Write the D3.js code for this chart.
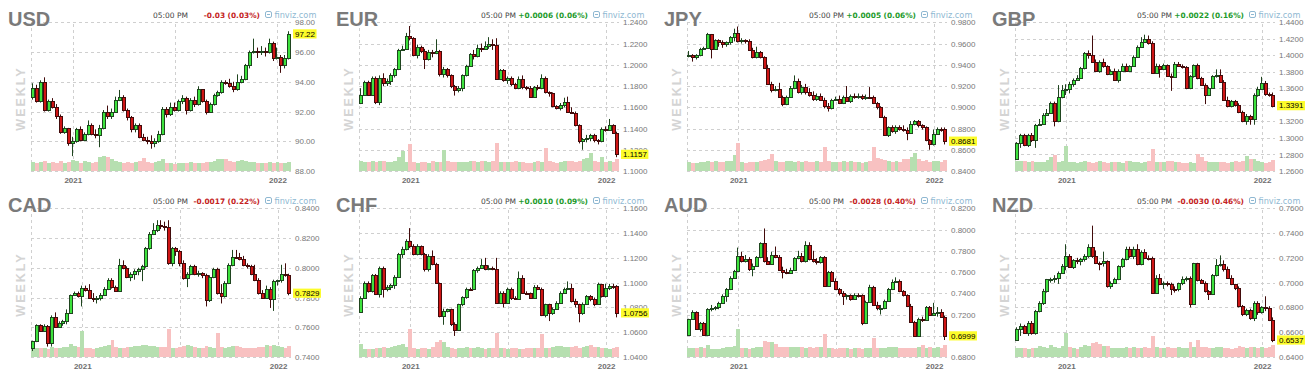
<!DOCTYPE html>
<html><head><meta charset="utf-8">
<script src="https://cdn.jsdelivr.net/npm/d3@7"></script>
<style>body{margin:0;background:#fff}svg{display:block}</style>
</head><body>
<svg id="c" width="1314" height="379"></svg>
<script>
// ---------- data ----------
const panelNames = ["USD","EUR","JPY","GBP","CAD","CHF","AUD","NZD"];
const changeLabels = ["-0.03 (0.03%)","+0.0006 (0.06%)","+0.0005 (0.06%)","+0.0022 (0.16%)","-0.0017 (0.22%)","+0.0010 (0.09%)","-0.0028 (0.40%)","-0.0030 (0.46%)"];
const lastPrices = [97.22,1.1157,0.8681,1.3391,0.7829,1.0756,0.6999,0.6537];
const firstWeeks = ["2020-10-26","2020-10-05","2020-10-05","2020-10-05","2020-10-05","2020-10-05","2020-10-05","2020-10-05"];
const timeLabel = "05:00 PM";
const periodLabel = "WEEKLY";

const usdTicks = [88,90,92,94,96,98];
const eurTicks = [1.10,1.12,1.14,1.16,1.18,1.20,1.22,1.24];
const jpyTicks = [0.84,0.86,0.88,0.90,0.92,0.94,0.96,0.98];
const gbpTicks = [1.26,1.28,1.30,1.32,1.34,1.36,1.38,1.40,1.42,1.44];
const cadTicks = [0.74,0.76,0.78,0.80,0.82,0.84];
const chfTicks = [1.04,1.06,1.08,1.10,1.12,1.14,1.16];
const audTicks = [0.68,0.70,0.72,0.74,0.76,0.78,0.80,0.82];
const nzdTicks = [0.64,0.66,0.68,0.70,0.72,0.74,0.76];

// weekly candles [open, high, low, close]
const usdCandles = [[93.0,93.9,92.8,93.6],[93.6,93.8,92.6,92.7],[92.7,94.1,92.6,94.0],[94.0,94.3,92.0,92.1],[92.1,92.8,92.0,92.7],[92.7,92.9,92.2,92.3],[92.3,92.5,91.5,91.7],[91.7,91.8,90.5,90.6],[90.6,91.0,90.5,90.9],[90.9,90.9,89.7,89.9],[89.9,90.3,89.0,90.0],[90.0,90.9,89.9,90.8],[90.8,91.0,90.0,90.1],[90.1,90.6,90.0,90.5],[90.5,91.4,90.4,91.1],[91.1,91.2,90.4,90.5],[90.5,90.8,90.2,90.4],[90.4,91.1,89.6,90.9],[90.9,92.1,90.8,92.0],[92.0,92.4,91.5,91.7],[91.7,92.2,91.5,92.0],[92.0,93.0,91.9,92.8],[92.8,93.45,92.7,93.0],[93.0,93.1,92.0,92.1],[92.1,92.2,91.4,91.6],[91.6,91.7,90.6,90.8],[90.8,91.2,90.6,91.1],[91.1,91.2,90.2,90.3],[90.3,90.5,90.0,90.1],[90.1,90.3,89.8,90.0],[90.0,90.4,89.5,89.9],[89.9,90.2,89.6,90.0],[90.0,90.7,89.9,90.5],[90.5,92.3,90.4,92.2],[92.2,92.3,91.6,91.8],[91.8,92.6,91.7,92.3],[92.3,92.6,92.0,92.1],[92.1,92.8,92.0,92.7],[92.7,93.1,92.5,92.9],[92.9,93.0,91.8,92.1],[92.1,92.9,92.0,92.8],[92.8,93.0,92.3,92.5],[92.5,93.7,92.4,93.5],[93.5,93.5,92.6,92.7],[92.7,92.8,91.8,92.0],[92.0,92.6,91.9,92.5],[92.5,93.2,92.4,93.1],[93.1,93.4,93.0,93.3],[93.3,94.1,93.2,94.0],[94.0,94.1,93.8,93.9],[93.9,94.2,93.6,93.7],[93.7,94.0,93.3,93.5],[93.5,94.5,93.4,94.0],[94.0,94.4,93.9,94.2],[94.2,95.2,94.1,95.1],[95.1,96.1,94.9,96.0],[96.0,96.9,95.9,96.1],[96.1,96.3,95.6,96.0],[96.0,96.4,95.8,96.1],[96.1,96.3,95.7,96.0],[96.0,96.9,95.9,96.6],[96.6,96.7,95.4,95.6],[95.6,96.3,95.5,95.7],[95.7,95.8,94.6,95.1],[95.1,95.8,94.9,95.6],[95.6,97.4,95.5,97.22]];
const usdVolume = [9,8,9,10,8,9,8,10,8,9,11,10,8,10,9,8,9,14,15,14,12,10,9,8,9,8,9,10,13,9,8,9,10,12,8,8,7,8,8,8,9,8,8,8,9,9,10,12,12,12,10,9,10,11,10,9,9,8,8,8,9,8,9,8,8,9];

const eurCandles = [[1.1640,1.1780,1.1630,1.1720],[1.1720,1.1850,1.1710,1.1840],[1.1840,1.1850,1.1710,1.1720],[1.1720,1.1890,1.1710,1.1880],[1.1880,1.1890,1.1630,1.1650],[1.1650,1.1900,1.1620,1.1880],[1.1880,1.1920,1.1800,1.1830],[1.1830,1.1870,1.1800,1.1850],[1.1850,1.1920,1.1810,1.1900],[1.1900,1.1970,1.1880,1.1960],[1.1960,1.2150,1.1950,1.2140],[1.2140,1.2180,1.2130,1.2150],[1.2150,1.2300,1.2140,1.2270],[1.2270,1.2365,1.2230,1.2250],[1.2250,1.2260,1.2080,1.2090],[1.2090,1.2190,1.2060,1.2170],[1.2170,1.2180,1.2110,1.2130],[1.2130,1.2150,1.1960,1.2050],[1.2050,1.2140,1.2040,1.2120],[1.2120,1.2140,1.2070,1.2110],[1.2110,1.2240,1.2100,1.2130],[1.2130,1.2140,1.1890,1.1910],[1.1910,1.1980,1.1880,1.1960],[1.1960,1.1970,1.1880,1.1900],[1.1900,1.1910,1.1780,1.1800],[1.1800,1.1810,1.1710,1.1760],[1.1760,1.1800,1.1740,1.1780],[1.1780,1.1910,1.1750,1.1900],[1.1900,1.2000,1.1890,1.1990],[1.1990,1.2110,1.1980,1.2100],[1.2100,1.2140,1.2050,1.2080],[1.2080,1.2190,1.2070,1.2160],[1.2160,1.2200,1.2120,1.2150],[1.2150,1.2220,1.2140,1.2180],[1.2180,1.2260,1.2150,1.2200],[1.2200,1.2240,1.2140,1.2190],[1.2190,1.2250,1.1860,1.1870],[1.1870,1.1960,1.1860,1.1950],[1.1950,1.1960,1.1840,1.1860],[1.1860,1.1890,1.1820,1.1880],[1.1880,1.1890,1.1800,1.1820],[1.1820,1.1830,1.1770,1.1780],[1.1780,1.1890,1.1770,1.1870],[1.1870,1.1900,1.1770,1.1790],[1.1790,1.1800,1.1760,1.1780],[1.1780,1.1800,1.1690,1.1700],[1.1700,1.1800,1.1690,1.1790],[1.1790,1.1810,1.1760,1.1780],[1.1780,1.1910,1.1770,1.1880],[1.1880,1.1890,1.1730,1.1740],[1.1740,1.1750,1.1700,1.1730],[1.1730,1.1740,1.1600,1.1610],[1.1610,1.1620,1.1580,1.1590],[1.1590,1.1640,1.1570,1.1620],[1.1620,1.1690,1.1600,1.1650],[1.1650,1.1700,1.1550,1.1560],[1.1560,1.1600,1.1540,1.1550],[1.1550,1.1560,1.1420,1.1430],[1.1430,1.1440,1.1260,1.1280],[1.1280,1.1310,1.1200,1.1300],[1.1300,1.1340,1.1270,1.1310],[1.1310,1.1350,1.1280,1.1340],[1.1340,1.1350,1.1270,1.1290],[1.1290,1.1300,1.1250,1.1280],[1.1280,1.1410,1.1270,1.1400],[1.1400,1.1420,1.1370,1.1390],[1.1390,1.1490,1.1380,1.1430],[1.1430,1.1440,1.1350,1.1360],[1.1360,1.1370,1.1130,1.1157]];
const eurVolume = [10,9,9,10,9,10,10,9,9,10,14,20,9,27,9,8,9,9,8,10,9,9,21,10,9,9,9,9,9,10,10,9,10,10,9,10,28,9,9,9,9,10,9,9,8,8,9,10,9,23,10,9,8,9,10,10,10,9,10,12,13,18,10,9,14,9,10,9,12];

const jpyCandles = [[0.9480,0.9530,0.9470,0.9490],[0.9490,0.9500,0.9430,0.9470],[0.9470,0.9500,0.9450,0.9490],[0.9490,0.9560,0.9480,0.9550],[0.9550,0.9570,0.9540,0.9560],[0.9560,0.9700,0.9550,0.9690],[0.9690,0.9690,0.9460,0.9550],[0.9550,0.9640,0.9540,0.9630],[0.9630,0.9640,0.9570,0.9610],[0.9610,0.9630,0.9560,0.9600],[0.9600,0.9620,0.9570,0.9610],[0.9610,0.9670,0.9590,0.9660],[0.9660,0.9740,0.9620,0.9700],[0.9700,0.9760,0.9610,0.9620],[0.9620,0.9650,0.9600,0.9630],[0.9635,0.9640,0.9600,0.9625],[0.9625,0.9640,0.9530,0.9540],[0.9540,0.9560,0.9460,0.9470],[0.9470,0.9570,0.9460,0.9520],[0.9520,0.9530,0.9460,0.9470],[0.9470,0.9480,0.9360,0.9370],[0.9370,0.9400,0.9210,0.9220],[0.9220,0.9240,0.9140,0.9160],[0.9160,0.9200,0.9150,0.9175],[0.9175,0.9230,0.9090,0.9100],[0.9100,0.9110,0.9010,0.9030],[0.9030,0.9110,0.9020,0.9100],[0.9100,0.9200,0.9090,0.9180],[0.9180,0.9300,0.9170,0.9250],[0.9250,0.9270,0.9130,0.9140],[0.9140,0.9210,0.9120,0.9190],[0.9190,0.9220,0.9120,0.9140],[0.9140,0.9180,0.9100,0.9120],[0.9120,0.9150,0.9060,0.9080],[0.9080,0.9130,0.9060,0.9110],[0.9110,0.9130,0.9060,0.9070],[0.9070,0.9090,0.8990,0.9010],[0.9010,0.9040,0.8960,0.8990],[0.8990,0.9080,0.8980,0.9070],[0.9070,0.9100,0.9060,0.9080],[0.9080,0.9110,0.9030,0.9040],[0.9040,0.9110,0.9030,0.9100],[0.9100,0.9200,0.9050,0.9060],[0.9060,0.9120,0.9040,0.9110],[0.9110,0.9130,0.9080,0.9100],[0.9100,0.9130,0.9080,0.9110],[0.9110,0.9120,0.9070,0.9090],[0.9090,0.9120,0.9070,0.9100],[0.9100,0.9190,0.9080,0.9095],[0.9095,0.9110,0.9030,0.9040],[0.9040,0.9050,0.8980,0.9000],[0.9000,0.9010,0.8900,0.8910],[0.8910,0.8920,0.8730,0.8740],[0.8740,0.8820,0.8720,0.8810],[0.8810,0.8830,0.8760,0.8780],[0.8780,0.8830,0.8750,0.8810],[0.8810,0.8830,0.8780,0.8800],[0.8800,0.8830,0.8770,0.8790],[0.8790,0.8810,0.8690,0.8760],[0.8760,0.8870,0.8750,0.8840],[0.8840,0.8880,0.8830,0.8870],[0.8870,0.8880,0.8810,0.8830],[0.8830,0.8840,0.8790,0.8810],[0.8810,0.8820,0.8680,0.8690],[0.8690,0.8700,0.8600,0.8650],[0.8650,0.8790,0.8640,0.8750],[0.8750,0.8810,0.8740,0.8800],[0.8800,0.8810,0.8770,0.8795],[0.8795,0.8810,0.8650,0.8681]];
const jpyVolume = [9,8,8,9,9,10,9,10,9,9,10,10,16,28,9,8,9,9,9,10,11,12,17,10,9,9,10,10,9,10,9,10,9,9,10,9,24,10,9,9,9,10,9,10,9,9,8,9,10,24,13,12,11,10,9,10,9,12,12,14,18,12,10,11,9,10,10,9,11];

const gbpCandles = [[1.2741,1.2950,1.2740,1.2935],[1.2935,1.3050,1.2880,1.3036],[1.3036,1.3050,1.2900,1.2915],[1.2915,1.3050,1.2890,1.3030],[1.3030,1.3060,1.2950,1.2970],[1.2970,1.3170,1.2880,1.3157],[1.3157,1.3230,1.3150,1.3170],[1.3170,1.3300,1.3160,1.3278],[1.3278,1.3350,1.3270,1.3306],[1.3306,1.3440,1.3290,1.3420],[1.3420,1.3440,1.3140,1.3210],[1.3210,1.3640,1.3190,1.3500],[1.3500,1.3640,1.3480,1.3580],[1.3580,1.3650,1.3520,1.3590],[1.3590,1.3680,1.3540,1.3650],[1.3650,1.3720,1.3620,1.3700],[1.3700,1.3760,1.3690,1.3730],[1.3730,1.3860,1.3720,1.3843],[1.3843,1.4040,1.3830,1.4025],[1.4025,1.4060,1.3960,1.4005],[1.4005,1.4240,1.3910,1.3924],[1.3924,1.3950,1.3800,1.3815],[1.3815,1.3940,1.3790,1.3920],[1.3920,1.3960,1.3850,1.3870],[1.3870,1.3880,1.3760,1.3780],[1.3780,1.3830,1.3760,1.3810],[1.3810,1.3840,1.3690,1.3700],[1.3700,1.3830,1.3670,1.3815],[1.3815,1.3900,1.3800,1.3870],[1.3870,1.3900,1.3800,1.3810],[1.3810,1.3880,1.3800,1.3870],[1.3870,1.4000,1.3860,1.3985],[1.3985,1.4120,1.3970,1.4105],[1.4105,1.4220,1.4090,1.4165],[1.4165,1.4250,1.4150,1.4200],[1.4200,1.4240,1.4130,1.4150],[1.4150,1.4170,1.3780,1.3790],[1.3790,1.3900,1.3780,1.3870],[1.3870,1.3890,1.3730,1.3830],[1.3830,1.3900,1.3820,1.3880],[1.3880,1.3890,1.3740,1.3750],[1.3750,1.3780,1.3570,1.3735],[1.3735,1.3920,1.3730,1.3900],[1.3900,1.3920,1.3860,1.3870],[1.3870,1.3890,1.3840,1.3860],[1.3860,1.3870,1.3590,1.3600],[1.3600,1.3760,1.3590,1.3750],[1.3750,1.3890,1.3730,1.3880],[1.3880,1.3900,1.3710,1.3720],[1.3720,1.3740,1.3630,1.3640],[1.3640,1.3660,1.3410,1.3520],[1.3520,1.3620,1.3510,1.3610],[1.3610,1.3760,1.3600,1.3750],[1.3750,1.3830,1.3730,1.3760],[1.3760,1.3830,1.3670,1.3680],[1.3680,1.3700,1.3450,1.3460],[1.3460,1.3500,1.3370,1.3385],[1.3385,1.3460,1.3370,1.3450],[1.3450,1.3460,1.3380,1.3400],[1.3400,1.3420,1.3300,1.3320],[1.3320,1.3330,1.3190,1.3210],[1.3210,1.3290,1.3160,1.3270],[1.3270,1.3280,1.3160,1.3225],[1.3225,1.3540,1.3160,1.3520],[1.3520,1.3620,1.3500,1.3590],[1.3590,1.3740,1.3580,1.3670],[1.3670,1.3690,1.3510,1.3530],[1.3530,1.3550,1.3500,1.3520],[1.3520,1.3550,1.3370,1.3391]];
const gbpVolume = [10,10,10,9,10,9,9,9,11,14,16,9,10,25,9,9,8,9,10,9,8,9,10,9,8,9,9,9,8,10,10,9,9,8,9,10,22,9,9,9,10,10,9,9,8,8,9,8,17,14,10,9,9,9,9,9,8,9,10,9,10,15,12,12,10,9,8,9,11];

const cadCandles = [[0.7463,0.7510,0.7440,0.7508],[0.7508,0.7620,0.7500,0.7613],[0.7613,0.7620,0.7570,0.7575],[0.7575,0.7620,0.7570,0.7610],[0.7610,0.7615,0.7470,0.7496],[0.7496,0.7680,0.7470,0.7671],[0.7671,0.7700,0.7600,0.7604],[0.7604,0.7640,0.7600,0.7630],[0.7630,0.7650,0.7610,0.7640],[0.7640,0.7720,0.7620,0.7694],[0.7694,0.7820,0.7690,0.7815],[0.7815,0.7840,0.7810,0.7828],[0.7828,0.7840,0.7800,0.7810],[0.7810,0.7880,0.7740,0.7862],[0.7862,0.7880,0.7840,0.7851],[0.7851,0.7890,0.7790,0.7800],[0.7800,0.7830,0.7770,0.7790],[0.7790,0.7810,0.7760,0.7800],[0.7800,0.7830,0.7780,0.7820],[0.7820,0.7870,0.7810,0.7860],[0.7860,0.7930,0.7850,0.7920],[0.7920,0.7930,0.7860,0.7870],[0.7870,0.7880,0.7840,0.7845],[0.7845,0.8060,0.7840,0.8020],[0.8020,0.8050,0.7990,0.8000],[0.8000,0.8010,0.7930,0.7940],[0.7940,0.7970,0.7910,0.7960],[0.7960,0.7990,0.7920,0.7975],[0.7975,0.8000,0.7950,0.7990],[0.7990,0.8020,0.7910,0.8010],[0.8010,0.8140,0.8000,0.8135],[0.8135,0.8240,0.8120,0.8230],[0.8230,0.8300,0.8220,0.8255],[0.8255,0.8320,0.8240,0.8290],[0.8290,0.8320,0.8260,0.8280],[0.8280,0.8310,0.8250,0.8275],[0.8275,0.8320,0.8020,0.8035],[0.8035,0.8140,0.8010,0.8130],[0.8130,0.8140,0.8080,0.8110],[0.8110,0.8120,0.8010,0.8030],[0.8030,0.8050,0.7920,0.7930],[0.7930,0.7970,0.7870,0.7960],[0.7960,0.8020,0.7950,0.8010],[0.8010,0.8020,0.7950,0.7960],[0.7960,0.7980,0.7940,0.7965],[0.7965,0.7970,0.7930,0.7950],[0.7950,0.7960,0.7740,0.7780],[0.7780,0.7950,0.7770,0.7940],[0.7940,0.8000,0.7930,0.7990],[0.7990,0.8000,0.7820,0.7830],[0.7830,0.7890,0.7760,0.7810],[0.7810,0.7910,0.7800,0.7900],[0.7900,0.8030,0.7890,0.8020],[0.8020,0.8120,0.8010,0.8075],[0.8075,0.8120,0.8060,0.8070],[0.8070,0.8100,0.8050,0.8060],[0.8060,0.8080,0.8010,0.8020],[0.8020,0.8030,0.7995,0.8010],[0.8010,0.8020,0.7950,0.7960],[0.7960,0.8020,0.7910,0.7920],[0.7920,0.7930,0.7820,0.7830],[0.7830,0.7850,0.7790,0.7800],[0.7800,0.7880,0.7790,0.7860],[0.7860,0.7870,0.7730,0.7790],[0.7790,0.7920,0.7710,0.7910],[0.7910,0.7920,0.7880,0.7915],[0.7915,0.8020,0.7900,0.7960],[0.7960,0.8030,0.7940,0.7950],[0.7950,0.7960,0.7815,0.7829]];
const cadVolume = [8,9,9,9,8,10,9,9,10,10,13,11,10,26,9,9,8,9,10,11,12,17,10,9,9,10,10,11,11,12,12,11,11,10,10,10,28,9,9,10,11,12,11,10,9,9,11,10,9,24,10,9,10,11,11,10,9,9,9,9,10,10,12,11,12,11,10,9,11];

const chfCandles = [[1.0766,1.0890,1.0760,1.0879],[1.0879,1.1010,1.0870,1.1000],[1.1000,1.1010,1.0920,1.0933],[1.0933,1.1070,1.0920,1.1059],[1.1059,1.1070,1.0900,1.0906],[1.0906,1.1130,1.0880,1.1121],[1.1121,1.1130,1.0880,1.0946],[1.0946,1.0980,1.0930,1.0968],[1.0968,1.0990,1.0940,1.0980],[1.0980,1.1060,1.0950,1.1048],[1.1048,1.1240,1.1040,1.1229],[1.1229,1.1290,1.1200,1.1269],[1.1269,1.1350,1.1260,1.1336],[1.1336,1.1440,1.1280,1.1296],[1.1296,1.1310,1.1220,1.1229],[1.1229,1.1310,1.1220,1.1296],[1.1296,1.1300,1.1220,1.1229],[1.1229,1.1240,1.1090,1.1113],[1.1113,1.1230,1.1090,1.1215],[1.1215,1.1260,1.1140,1.1148],[1.1148,1.1160,1.0990,1.0995],[1.0995,1.1000,1.0720,1.0731],[1.0731,1.0790,1.0660,1.0771],[1.0771,1.0790,1.0760,1.0785],[1.0785,1.0790,1.0650,1.0664],[1.0664,1.0680,1.0570,1.0618],[1.0618,1.0830,1.0610,1.0825],[1.0825,1.0890,1.0810,1.0887],[1.0887,1.0960,1.0870,1.0952],[1.0952,1.0960,1.0940,1.0950],[1.0950,1.1110,1.0940,1.1102],[1.1102,1.1130,1.1080,1.1121],[1.1121,1.1190,1.1110,1.1140],[1.1140,1.1200,1.1100,1.1113],[1.1113,1.1140,1.1100,1.1120],[1.1120,1.1130,1.1100,1.1110],[1.1110,1.1200,1.0830,1.0839],[1.0839,1.0930,1.0830,1.0914],[1.0914,1.0930,1.0800,1.0839],[1.0839,1.0960,1.0830,1.0952],[1.0952,1.0960,1.0860,1.0880],[1.0880,1.0890,1.0860,1.0865],[1.0865,1.1090,1.0860,1.1040],[1.1040,1.1060,1.0910,1.0919],[1.0919,1.0930,1.0900,1.0915],[1.0915,1.0920,1.0870,1.0880],[1.0880,1.0980,1.0870,1.0968],[1.0968,1.0980,1.0940,1.0950],[1.0950,1.0960,1.0730,1.0736],[1.0736,1.0830,1.0720,1.0825],[1.0825,1.0830,1.0690,1.0758],[1.0758,1.0800,1.0740,1.0790],[1.0790,1.0850,1.0780,1.0839],[1.0839,1.0930,1.0830,1.0919],[1.0919,1.0960,1.0910,1.0945],[1.0945,1.1010,1.0940,1.0960],[1.0960,1.0990,1.0840,1.0852],[1.0852,1.0870,1.0800,1.0825],[1.0825,1.0830,1.0680,1.0753],[1.0753,1.0840,1.0740,1.0825],[1.0825,1.0900,1.0820,1.0892],[1.0892,1.0900,1.0850,1.0870],[1.0870,1.0880,1.0810,1.0825],[1.0825,1.1000,1.0820,1.0987],[1.0987,1.0990,1.0880,1.0892],[1.0892,1.0990,1.0880,1.0960],[1.0960,1.0990,1.0940,1.0975],[1.0975,1.0990,1.0950,1.0970],[1.0970,1.0980,1.0720,1.0756]];
const chfVolume = [13,8,8,8,9,9,10,9,10,11,12,13,10,28,9,8,9,9,8,10,15,17,15,10,9,8,9,9,10,9,9,10,9,8,9,9,24,9,9,8,9,9,8,8,9,9,9,9,23,9,9,10,11,11,10,10,10,11,9,10,11,12,10,10,9,9,8,9,10];

const audCandles = [[0.7007,0.7160,0.7000,0.7155],[0.7155,0.7240,0.7150,0.7224],[0.7224,0.7230,0.7060,0.7067],[0.7067,0.7130,0.7040,0.7123],[0.7123,0.7130,0.7000,0.7007],[0.7007,0.7260,0.7000,0.7255],[0.7255,0.7290,0.7230,0.7265],[0.7265,0.7280,0.7240,0.7270],[0.7270,0.7320,0.7250,0.7312],[0.7312,0.7390,0.7300,0.7375],[0.7375,0.7450,0.7320,0.7444],[0.7444,0.7560,0.7430,0.7547],[0.7547,0.7620,0.7540,0.7610],[0.7610,0.7830,0.7600,0.7751],[0.7751,0.7790,0.7690,0.7704],[0.7704,0.7760,0.7690,0.7720],[0.7720,0.7740,0.7610,0.7626],[0.7626,0.7680,0.7560,0.7660],[0.7660,0.7750,0.7650,0.7740],[0.7740,0.7880,0.7730,0.7870],[0.7870,0.8010,0.7690,0.7700],[0.7700,0.7740,0.7670,0.7680],[0.7680,0.7790,0.7670,0.7760],[0.7760,0.7840,0.7730,0.7745],[0.7745,0.7760,0.7610,0.7620],[0.7620,0.7650,0.7540,0.7600],[0.7600,0.7630,0.7580,0.7595],[0.7595,0.7640,0.7590,0.7620],[0.7620,0.7740,0.7610,0.7730],[0.7730,0.7800,0.7720,0.7750],[0.7750,0.7780,0.7690,0.7700],[0.7700,0.7890,0.7690,0.7850],[0.7850,0.7880,0.7710,0.7720],[0.7720,0.7800,0.7690,0.7705],[0.7705,0.7730,0.7670,0.7690],[0.7690,0.7750,0.7680,0.7740],[0.7740,0.7750,0.7460,0.7470],[0.7470,0.7610,0.7460,0.7600],[0.7600,0.7610,0.7510,0.7520],[0.7520,0.7540,0.7430,0.7440],[0.7440,0.7450,0.7380,0.7400],[0.7400,0.7420,0.7290,0.7370],[0.7370,0.7390,0.7340,0.7380],[0.7380,0.7390,0.7330,0.7350],[0.7350,0.7400,0.7340,0.7385],[0.7385,0.7400,0.7360,0.7380],[0.7380,0.7390,0.7100,0.7120],[0.7120,0.7330,0.7110,0.7320],[0.7320,0.7480,0.7310,0.7460],[0.7460,0.7470,0.7280,0.7290],[0.7290,0.7320,0.7240,0.7260],[0.7260,0.7290,0.7200,0.7265],[0.7265,0.7340,0.7250,0.7330],[0.7330,0.7450,0.7320,0.7440],[0.7440,0.7530,0.7430,0.7510],[0.7510,0.7550,0.7500,0.7520],[0.7520,0.7530,0.7410,0.7420],[0.7420,0.7430,0.7370,0.7380],[0.7380,0.7390,0.7270,0.7280],[0.7280,0.7300,0.7120,0.7130],[0.7130,0.7140,0.6990,0.7000],[0.7000,0.7170,0.6990,0.7160],[0.7160,0.7180,0.7130,0.7150],[0.7150,0.7280,0.7140,0.7270],[0.7270,0.7280,0.7190,0.7200],[0.7200,0.7310,0.7190,0.7210],[0.7210,0.7270,0.7180,0.7220],[0.7220,0.7250,0.7170,0.7180],[0.7180,0.7190,0.6960,0.6999]];
const audVolume = [9,9,9,10,9,12,8,8,8,9,10,10,11,28,9,9,8,9,10,10,16,15,15,13,10,10,10,10,10,10,10,9,10,9,10,10,23,9,9,8,9,9,9,8,9,9,8,9,9,19,9,9,9,10,10,10,9,9,9,9,9,10,12,9,10,9,10,9,12];

const nzdCandles = [[0.6537,0.6640,0.6530,0.6623],[0.6623,0.6670,0.6570,0.6650],[0.6650,0.6660,0.6590,0.6596],[0.6596,0.6690,0.6570,0.6677],[0.6677,0.6690,0.6580,0.6596],[0.6596,0.6780,0.6580,0.6771],[0.6771,0.6850,0.6760,0.6839],[0.6839,0.6950,0.6820,0.6933],[0.6933,0.7030,0.6920,0.7027],[0.7027,0.7040,0.7000,0.7032],[0.7032,0.7060,0.7000,0.7040],[0.7040,0.7090,0.6990,0.7081],[0.7081,0.7150,0.7070,0.7135],[0.7135,0.7310,0.7100,0.7215],[0.7215,0.7230,0.7120,0.7129],[0.7129,0.7190,0.7110,0.7183],[0.7183,0.7200,0.7150,0.7175],[0.7175,0.7200,0.7140,0.7190],[0.7190,0.7230,0.7170,0.7215],[0.7215,0.7310,0.7200,0.7291],[0.7291,0.7460,0.7200,0.7215],[0.7215,0.7260,0.7150,0.7161],[0.7161,0.7170,0.7100,0.7160],[0.7160,0.7250,0.7130,0.7175],[0.7175,0.7180,0.6960,0.6973],[0.6973,0.7010,0.6950,0.7000],[0.7000,0.7040,0.6990,0.7032],[0.7032,0.7140,0.7020,0.7135],[0.7135,0.7200,0.7120,0.7188],[0.7188,0.7290,0.7180,0.7275],[0.7275,0.7290,0.7200,0.7215],[0.7215,0.7290,0.7190,0.7275],[0.7275,0.7310,0.7140,0.7148],[0.7148,0.7260,0.7140,0.7250],[0.7250,0.7270,0.7190,0.7200],[0.7200,0.7220,0.7180,0.7195],[0.7195,0.7210,0.6910,0.6919],[0.6919,0.7060,0.6910,0.7040],[0.7040,0.7070,0.6980,0.6987],[0.6987,0.7010,0.6950,0.7000],[0.7000,0.7010,0.6970,0.6987],[0.6987,0.7000,0.6900,0.6952],[0.6952,0.6970,0.6920,0.6945],[0.6945,0.7000,0.6930,0.6995],[0.6995,0.7050,0.6980,0.7032],[0.7032,0.7050,0.7010,0.7040],[0.7040,0.7050,0.6800,0.6825],[0.6825,0.7160,0.6820,0.7156],[0.7156,0.7160,0.7010,0.7022],[0.7022,0.7030,0.6990,0.7000],[0.7000,0.7010,0.6920,0.6933],[0.6933,0.6940,0.6860,0.6910],[0.6910,0.7070,0.6900,0.7059],[0.7059,0.7190,0.7050,0.7140],[0.7140,0.7220,0.7130,0.7150],[0.7150,0.7180,0.7090,0.7110],[0.7110,0.7130,0.7030,0.7040],[0.7040,0.7060,0.6980,0.6987],[0.6987,0.6990,0.6940,0.6960],[0.6960,0.6970,0.6800,0.6812],[0.6812,0.6820,0.6730,0.6744],[0.6744,0.6790,0.6730,0.6780],[0.6780,0.6790,0.6700,0.6718],[0.6718,0.6850,0.6690,0.6839],[0.6839,0.6850,0.6740,0.6760],[0.6760,0.6810,0.6750,0.6800],[0.6800,0.6890,0.6770,0.6795],[0.6795,0.6810,0.6690,0.6700],[0.6700,0.6720,0.6520,0.6537]];
const nzdVolume = [9,9,9,8,9,9,11,10,9,12,10,9,11,24,10,9,8,10,12,11,14,15,13,11,11,9,9,9,9,10,9,10,9,9,10,9,21,10,9,9,10,9,9,10,9,9,15,10,17,10,10,9,9,10,10,9,9,8,9,11,10,9,10,10,9,10,9,10,12];

// ---------- table built from the arrays ----------
const candleSets = [usdCandles,eurCandles,jpyCandles,gbpCandles,cadCandles,chfCandles,audCandles,nzdCandles];
const volumeSets = [usdVolume,eurVolume,jpyVolume,gbpVolume,cadVolume,chfVolume,audVolume,nzdVolume];
const tickSets = [usdTicks,eurTicks,jpyTicks,gbpTicks,cadTicks,chfTicks,audTicks,nzdTicks];
const panels = panelNames.map((name,i)=>({name, change:changeLabels[i], last:lastPrices[i], first:firstWeeks[i],
  candles:candleSets[i], volume:volumeSets[i], ticks:tickSets[i], fmt: i===0 ? ".2f" : ".4f"}));

// ---------- drawing ----------
const svg = d3.select("#c");
const colW = 328, rowH = 186;
const L = 31, R = 291, T = 22.3, B = 171;
const WEEK = 7*864e5;
const SANS = "'Liberation Sans', Arial, sans-serif";
const VERD = "'DejaVu Sans', Verdana, sans-serif";
const GRID = "#cfcfcf";
const UP = {fill:"#3de23d", line:"#1f451f", vol:"#b6dfb0"};
const DN = {fill:"#cf1515", line:"#420b0b", vol:"#f8c1c1"};

panels.forEach((p, i) => {
  const g = svg.append("g").attr("transform", `translate(${(i%4)*colW},${Math.floor(i/4)*rowH})`);
  const n = p.candles.length;
  const t0 = Date.parse(p.first + "T00:00:00Z");
  const dates = d3.range(n).map(k => new Date(t0 + k*WEEK));
  const x = d3.scaleUtc()
    .domain([new Date(+dates[0] - 0.62*WEEK), new Date(+dates[n-1] + 0.43*WEEK)])
    .range([L, R]);
  const pitch = x(dates[1]) - x(dates[0]);
  const y = d3.scaleLinear().domain([p.ticks[0], p.ticks[p.ticks.length-1]]).range([B, T]);
  const yr = y.copy().interpolate(d3.interpolateRound);
  const v = d3.scaleLinear().domain([0, 30]).range([0, 30]);

  const yearStarts = dates.filter((d,k)=> k>0 && d.getUTCFullYear() !== dates[k-1].getUTCFullYear());
  const midStarts = dates.filter((d,k)=> k>0 && d.getUTCMonth()===6 && dates[k-1].getUTCMonth()===5);

  // horizontal grid
  const hg = g.append("g").attr("transform", `translate(${L},0)`)
    .call(d3.axisLeft(yr).tickValues(p.ticks).tickSize(-(R-L)).tickFormat(""));
  hg.select(".domain").remove();
  hg.selectAll("line").attr("stroke", GRID).attr("stroke-dasharray", "3,3");

  // vertical grid
  const xr = x.copy().interpolate(d3.interpolateRound);
  const vg = g.append("g").attr("transform", `translate(0,${Math.round(B)})`)
    .call(d3.axisBottom(xr).tickValues([...yearStarts, ...midStarts]).tickSize(-(Math.round(B)-Math.round(T))).tickFormat(""));
  vg.select(".domain").remove();
  vg.selectAll("line").attr("stroke", GRID).attr("stroke-dasharray", "3,3");
  g.append("line").attr("x1", L+0.5).attr("x2", L+0.5).attr("y1", Math.round(T)).attr("y2", Math.round(B))
    .attr("stroke", GRID).attr("stroke-dasharray", "3,3");

  // volume bars
  g.append("g").attr("shape-rendering","crispEdges").selectAll("rect").data(p.candles).join("rect")
    .attr("x", (d,k) => x(dates[k]) - pitch/2)
    .attr("width", pitch + 0.02)
    .attr("y", (d,k) => B - v(p.volume[k] || 0))
    .attr("height", (d,k) => v(p.volume[k] || 0))
    .attr("fill", d => (d[3] >= d[0] ? UP : DN).vol);

  // candles
  const cg = g.append("g");
  p.candles.forEach((d, k) => {
    const [o,h,l,c] = d;
    const col = c >= o ? UP : DN;
    const c0 = Math.round(x(dates[k])) - 2;
    cg.append("line").attr("x1", c0+1.5).attr("x2", c0+1.5)
      .attr("y1", y(h)).attr("y2", y(l)).attr("stroke", col.line).attr("stroke-width", 1);
    let top = Math.round(y(Math.max(o,c))) + 0.5;
    let bot = Math.round(y(Math.min(o,c))) + 0.5;
    if (bot - top < 1) bot = top + 1;
    cg.append("rect").attr("x", c0+0.5).attr("width", 3)
      .attr("y", top).attr("height", bot-top)
      .attr("fill", col.fill).attr("stroke", col.line).attr("stroke-width", 1);
  });

  // right axis labels
  const ra = g.append("g").attr("transform", `translate(${R},0)`)
    .call(d3.axisRight(y).tickValues(p.ticks).tickFormat(d3.format(p.fmt)).tickSize(0).tickPadding(4));
  ra.select(".domain").remove();
  ra.selectAll("text").attr("font-family", SANS).attr("font-size", 8).attr("fill", "#777");

  // current price box (drawn over the axis label it covers, as in the original)
  const py = y(p.last);
  const pt = g.append("text").attr("x", 295).attr("y", py).attr("dy", "0.34em")
    .attr("font-family", SANS).attr("font-size", 8).attr("fill", "#000")
    .text(d3.format(p.fmt)(p.last));
  const tw = pt.node().getComputedTextLength();
  g.insert("rect", () => pt.node()).attr("x", 293).attr("y", py - 4.6).attr("width", tw + 3.5).attr("height", 9.2)
    .attr("fill", "#fcfc2a");

  // year labels
  const ya = g.append("g").attr("transform", `translate(0,${B})`)
    .call(d3.axisBottom(x).tickValues(yearStarts).tickFormat(d3.utcFormat("%Y")).tickSize(0).tickPadding(6));
  ya.select(".domain").remove();
  ya.selectAll("text").attr("font-family", SANS).attr("font-size", 8).attr("font-weight", "bold").attr("fill", "#6e6e6e");

  // title
  g.append("text").attr("x", 8).attr("y", 26).attr("font-family", SANS).attr("font-weight", "bold")
    .attr("font-size", 20).attr("fill", "#7a7a7a").text(p.name);

  // WEEKLY
  g.append("text").attr("transform", "translate(20,98.5) rotate(-90)")
    .attr("text-anchor", "middle").attr("dy", "0.36em")
    .attr("font-family", SANS).attr("font-weight", "bold").attr("font-size", 12.5)
    .attr("letter-spacing", 2).attr("fill", "#d4d4d4").text(periodLabel);

  // header
  g.append("text").attr("x", 188).attr("y", 17.5).attr("text-anchor", "end")
    .attr("font-family", VERD).attr("font-size", 7.5).attr("fill", "#444").text(timeLabel);
  g.append("text").attr("x", 260).attr("y", 17.5).attr("text-anchor", "end")
    .attr("font-family", VERD).attr("font-weight", "bold").attr("font-size", 7.4)
    .attr("fill", p.change.startsWith("-") ? "#c42222" : "#229a2a").text(p.change);
  g.append("rect").attr("x", 265.5).attr("y", 11.5).attr("width", 6).attr("height", 6).attr("rx", 1.5)
    .attr("fill", "none").attr("stroke", "#8fb8d2").attr("stroke-width", 1);
  g.append("line").attr("x1", 267).attr("x2", 270).attr("y1", 14.5).attr("y2", 14.5).attr("stroke", "#8fb8d2");
  g.append("text").attr("x", 274.5).attr("y", 17.5)
    .attr("font-family", VERD).attr("font-size", 8.2).attr("fill", "#8fb8d2").text("finviz.com");
});
</script>
</body></html>
